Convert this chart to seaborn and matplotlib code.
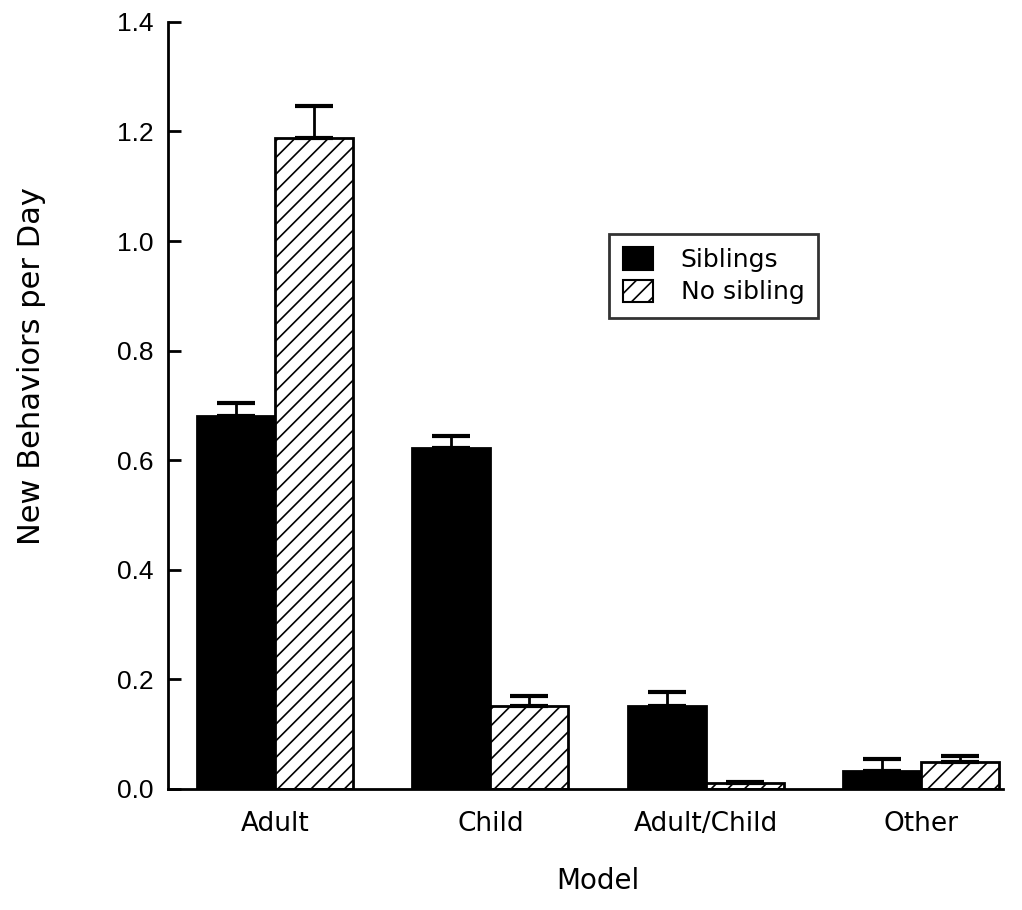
import matplotlib
matplotlib.use("Agg")
import matplotlib.pyplot as plt
import seaborn as sns
import pandas as pd
import numpy as np
from matplotlib.patches import Patch

# Mean new behaviors per day by model type, with SE (upper whisker only)
models = ["Adult", "Child", "Adult/Child", "Other"]
groups = ["Siblings", "No sibling"]
siblings_mean = [0.681, 0.622, 0.152, 0.032]
siblings_se = [0.023, 0.022, 0.025, 0.023]
nosibling_mean = [1.188, 0.151, 0.010, 0.050]
nosibling_se = [0.058, 0.018, 0.003, 0.010]
ytick_values = [0.0, 0.2, 0.4, 0.6, 0.8, 1.0, 1.2, 1.4]

df = pd.DataFrame({
    "Model": models * 2,
    "Group": [groups[0]] * 4 + [groups[1]] * 4,
    "Value": siblings_mean + nosibling_mean,
    "SE": siblings_se + nosibling_se,
})

sns.set_theme(style="ticks")
WORD_FONT = ["DejaVu Sans"]
NUM_FONT = ["Liberation Sans", "DejaVu Sans"]
plt.rcParams["font.family"] = WORD_FONT
plt.rcParams["hatch.linewidth"] = 1.2
for key in ["text.color", "axes.labelcolor", "xtick.color", "ytick.color",
            "axes.edgecolor"]:
    plt.rcParams[key] = "black"

fig = plt.figure(figsize=(10.22, 9.10), dpi=100)
ax = fig.add_axes([0.164, 0.133, 0.817, 0.843])

sns.barplot(data=df, x="Model", y="Value", hue="Group", order=models,
            hue_order=groups, palette=["black", "white"], errorbar=None,
            width=0.725, edgecolor="black", linewidth=2, saturation=1,
            legend=False, ax=ax)

# Hatch the "No sibling" bars and add one-sided error bars
for cont, grp in zip(ax.containers, groups):
    sub = df[df["Group"] == grp].set_index("Model").loc[models]
    xs = [r.get_x() + r.get_width() / 2 for r in cont]
    for r in cont:
        if grp == "No sibling":
            r.set_hatch("//")
    ax.errorbar(xs, sub["Value"].values,
                yerr=[np.zeros(len(xs)), sub["SE"].values],
                fmt="none", ecolor="black", elinewidth=2, capsize=14,
                capthick=3, zorder=1)

ax.set_ylim(0, 1.4)
ax.set_xlim(-0.5, 3.38)
ax.set_yticks(ytick_values)
ax.set_yticklabels([f"{v:.1f}" for v in ytick_values], fontfamily=NUM_FONT)
ax.tick_params(axis="y", direction="in", length=9, width=2, labelsize=19, pad=10)
ax.tick_params(axis="x", length=0, labelsize=19, pad=16)

sns.despine(ax=ax)
ax.spines["left"].set_linewidth(2)
ax.spines["bottom"].set_linewidth(2)

ax.set_xlabel("Model", fontsize=20)
ax.xaxis.set_label_coords(0.515, -0.102)
ax.set_ylabel("New Behaviors per Day", fontsize=22)
ax.yaxis.set_label_coords(-0.146, (789 - 366) / 767)

handles = [Patch(facecolor="black", edgecolor="black", linewidth=1.5),
           Patch(facecolor="white", edgecolor="black", hatch="//", linewidth=1.5)]
leg = ax.legend(handles, groups, loc="upper left", bbox_to_anchor=(0.529, 0.724),
                borderaxespad=0, fontsize=18, frameon=True, fancybox=False,
                edgecolor="black", handlelength=1.2, handleheight=1.0,
                handletextpad=1.1, borderpad=0.55, labelspacing=0.3)
leg.get_frame().set_linewidth(2)

fig.savefig("out.png", dpi=100)
